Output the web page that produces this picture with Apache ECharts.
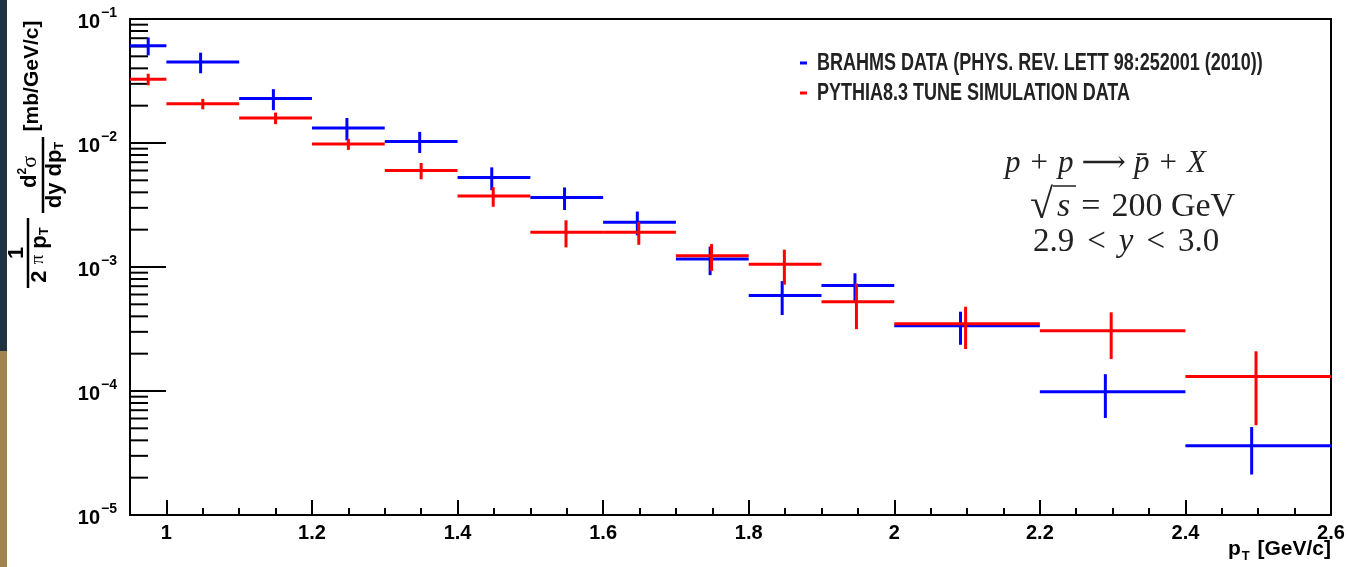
<!DOCTYPE html>
<html><head><meta charset="utf-8">
<script src="https://cdn.jsdelivr.net/npm/echarts@6/dist/echarts.min.js"></script>
<style>html,body{margin:0;padding:0;background:#fff}#c{width:1348px;height:567px}</style>
</head><body><div id="c"></div>
<script>
// ---- data ----
const binLo = [0.95, 1.0, 1.1, 1.2, 1.3, 1.4, 1.5, 1.6, 1.7, 1.8, 1.9, 2.0, 2.2, 2.4];
const binHi = [1.0, 1.1, 1.2, 1.3, 1.4, 1.5, 1.6, 1.7, 1.8, 1.9, 2.0, 2.2, 2.4, 2.6];

const brahmsX   = [0.975, 1.047, 1.147, 1.248, 1.348, 1.447, 1.547, 1.647, 1.747, 1.846, 1.946, 2.091, 2.290, 2.491];
const brahmsY   = [0.0609, 0.045, 0.0228, 0.0132, 0.0103, 0.00526, 0.00363, 0.0023, 0.00116, 0.00059, 0.00071, 0.000336, 0.0000986, 0.0000362];
const brahmsErr = [0.0100, 0.0085, 0.0044, 0.0027, 0.0020, 0.0011, 0.00075, 0.0005, 0.0003, 0.00018, 0.00018, 0.0001, 0.000038, 0.000015];

const pythiaX   = [0.975, 1.05, 1.15, 1.25, 1.35, 1.449, 1.549, 1.649, 1.749, 1.849, 1.948, 2.098, 2.298, 2.497];
const pythiaY   = [0.0327, 0.0207, 0.0159, 0.0098, 0.0060, 0.00373, 0.00191, 0.00191, 0.00123, 0.00105, 0.000525, 0.000348, 0.000306, 0.000131];
const pythiaErr = [0.0035, 0.0020, 0.0017, 0.0010, 0.0009, 0.00067, 0.00047, 0.0004, 0.0003, 0.00033, 0.00021, 0.00013, 0.000125, 0.000078];

const xTickValues = [1, 1.2, 1.4, 1.6, 1.8, 2, 2.2, 2.4, 2.6];
const xMinorTickValues = [1.05, 1.1, 1.15, 1.25, 1.3, 1.35, 1.45, 1.5, 1.55, 1.65, 1.7, 1.75, 1.85, 1.9, 1.95,
                          2.05, 2.1, 2.15, 2.25, 2.3, 2.35, 2.45, 2.5, 2.55];
const yMinorTickValues = [2e-5, 3e-5, 4e-5, 5e-5, 6e-5, 7e-5, 8e-5, 9e-5,
                          2e-4, 3e-4, 4e-4, 5e-4, 6e-4, 7e-4, 8e-4, 9e-4,
                          2e-3, 3e-3, 4e-3, 5e-3, 6e-3, 7e-3, 8e-3, 9e-3,
                          2e-2, 3e-2, 4e-2, 5e-2, 6e-2, 7e-2, 8e-2, 9e-2];
const xMin = 0.95, xMax = 2.6, yMin = 1e-5, yMax = 1e-1;

const legendNames = ['BRAHMS DATA (PHYS. REV. LETT 98:252001 (2010))', 'PYTHIA8.3 TUNE SIMULATION DATA'];

// ---- chart ----
const SANS = '"Liberation Sans", Arial, Helvetica, sans-serif';
const SERIF = '"Liberation Serif", "DejaVu Serif", "Times New Roman", serif';
const chart = echarts.init(document.getElementById('c'), null, {renderer: 'canvas'});

function errSeries(name, xs, ys, es, color) {
  return {
    name, type: 'custom', xAxisIndex: 0, yAxisIndex: 0, clip: false,
    data: xs.map((x, i) => [x, ys[i], es[i], binLo[i], binHi[i]]),
    encode: {x: 0, y: 1},
    renderItem(params, api) {
      const xc = api.value(0), y = api.value(1), e = api.value(2), lo = api.value(3), hi = api.value(4);
      const pL = api.coord([lo, y]), pR = api.coord([hi, y]);
      const pT = api.coord([xc, y + e]), pB = api.coord([xc, y - e]);
      const st = {stroke: color, lineWidth: 3};
      return {type: 'group', children: [
        {type: 'line', shape: {x1: pL[0], y1: pL[1], x2: pR[0], y2: pR[1]}, style: st},
        {type: 'line', shape: {x1: pT[0], y1: pT[1], x2: pB[0], y2: pB[1]}, style: st}
      ]};
    }
  };
}

const tickStyle = {color: '#000', width: 2};
const bTxt = {fontFamily: SANS, fontWeight: 'bold', fill: '#000'};
const INK = '#222';
function serifRich(size, pad) {
  return {
    i: {fontFamily: SERIF, fontStyle: 'italic', fontSize: size, fill: INK},
    n: {fontFamily: SERIF, fontSize: size, fill: INK},
    o: {fontFamily: SERIF, fontSize: size, fill: INK, padding: [0, pad, 0, pad]},
    a: {fontFamily: SERIF, fontSize: size, fill: INK, padding: [0, pad - 2, 0, pad - 2]}
  };
}

const option = {
  backgroundColor: '#fff',
  animation: false,
  grid: {left: 130, right: 17, top: 19, bottom: 52, show: true, borderColor: '#000', borderWidth: 2,
         backgroundColor: 'transparent', containLabel: false, outerBoundsMode: 'none'},
  xAxis: [
    {type: 'value', min: xMin, max: xMax, position: 'bottom',
     axisLine: {onZero: false, lineStyle: tickStyle},
     axisTick: {inside: true, length: 15, customValues: xTickValues, lineStyle: tickStyle},
     axisLabel: {customValues: xTickValues, margin: 8, fontSize: 20, fontWeight: 'bold', color: '#000', fontFamily: SANS},
     splitLine: {show: false}},
    {type: 'value', min: xMin, max: xMax, position: 'bottom',
     axisLine: {show: false, onZero: false},
     axisTick: {inside: true, length: 7, customValues: xMinorTickValues, lineStyle: tickStyle},
     axisLabel: {show: false},
     splitLine: {show: false}}
  ],
  yAxis: {
    type: 'log', logBase: 10, min: yMin, max: yMax,
    axisLine: {show: true, onZero: false, lineStyle: tickStyle},
    axisTick: {inside: true, length: 36, lineStyle: tickStyle},
    splitLine: {show: false},
    axisLabel: {
      margin: 13, color: '#000',
      formatter: v => '{b|10}{s|\u2212' + Math.round(-Math.log10(v)) + '}',
      rich: {
        b: {fontSize: 20, fontWeight: 'bold', fontFamily: SANS, color: '#000', lineHeight: 26, verticalAlign: 'bottom'},
        s: {fontSize: 14, fontWeight: 'bold', fontFamily: SANS, color: '#000', lineHeight: 12, verticalAlign: 'top', padding: [0, 0, 0, 1]}
      }
    }
  },
  series: [
    {
      name: 'minorTicks', type: 'custom', xAxisIndex: 0, yAxisIndex: 0, clip: false, silent: true,
      data: yMinorTickValues.map(v => [xMin, v]),
      encode: {x: 0, y: 1},
      renderItem(params, api) {
        const p = api.coord([api.value(0), api.value(1)]);
        return {type: 'line', shape: {x1: p[0], y1: p[1], x2: p[0] + 18, y2: p[1]}, style: {stroke: '#000', lineWidth: 2}};
      }
    },
    errSeries(legendNames[0], brahmsX, brahmsY, brahmsErr, '#0000ff'),
    errSeries(legendNames[1], pythiaX, pythiaY, pythiaErr, '#ff0000')
  ],
  graphic: [
    // left slide strip
    {type: 'rect', shape: {x: 0, y: 0, width: 7, height: 351}, style: {fill: '#1f3340'}, silent: true},
    {type: 'rect', shape: {x: 0, y: 351, width: 7, height: 216}, style: {fill: '#a08450'}, silent: true},
    // legend
    {type: 'rect', shape: {x: 800, y: 61.5, width: 7, height: 3}, style: {fill: '#0000ff'}},
    {type: 'rect', shape: {x: 800, y: 91.5, width: 7, height: 3}, style: {fill: '#ff0000'}},
    {type: 'text', x: 817, y: 63, scaleX: 0.75,
     style: {text: legendNames[0], fontFamily: SANS, fontWeight: 'bold', fontSize: 24, fill: INK, verticalAlign: 'middle', align: 'left'}},
    {type: 'text', x: 817, y: 93, scaleX: 0.75,
     style: {text: legendNames[1], fontFamily: SANS, fontWeight: 'bold', fontSize: 24, fill: INK, verticalAlign: 'middle', align: 'left'}},
    // physics annotation
    {type: 'text', x: 1005, y: 164,
     style: {text: '{i|p}{o|+}{i|p}{a|\u27F6}{i|p\u0304}{o|+}{i|X}', verticalAlign: 'middle', align: 'left',
       rich: serifRich(31, 10)}},
    {type: 'text', x: 1030, y: 207,
     style: {text: '\u221A', fontFamily: SERIF, fontSize: 42, fill: INK, verticalAlign: 'middle', align: 'left'}},
    {type: 'line', shape: {x1: 1053, y1: 186, x2: 1076, y2: 186}, style: {stroke: INK, lineWidth: 1.5}},
    {type: 'text', x: 1057, y: 207,
     style: {text: '{i|s}{o|=}{n|200 GeV}', verticalAlign: 'middle', align: 'left', rich: serifRich(34, 11)}},
    {type: 'text', x: 1033, y: 242,
     style: {text: '{n|2.9}{o|<}{i|y}{o|<}{n|3.0}', verticalAlign: 'middle', align: 'left', rich: serifRich(33, 13)}},
    // x axis title
    {type: 'text', x: 1331, y: 551,
     style: {text: '{b|p}{sub|T}{b| [GeV/c]}', align: 'right', verticalAlign: 'middle',
       rich: {b: {fontFamily: SANS, fontWeight: 'bold', fontSize: 21, fill: '#000', lineHeight: 24, verticalAlign: 'top'},
              sub: {fontFamily: SANS, fontWeight: 'bold', fontSize: 13, fill: '#000', lineHeight: 10, verticalAlign: 'bottom', padding: [0, 2, 0, 1]}}}},
    // y axis title (rotated)
    {type: 'group', x: 0, y: 300, rotation: Math.PI / 2, children: [
      {type: 'text', x: 47, y: 17, style: Object.assign({text: '1', fontSize: 22, align: 'center', verticalAlign: 'middle'}, bTxt)},
      {type: 'line', shape: {x1: 12, y1: 28, x2: 82, y2: 28}, style: {stroke: '#000', lineWidth: 2.5}},
      {type: 'text', x: 45, y: 29,
       style: {text: '{b|2 }{pi|\u03C0}{b| p}{sub|T}', align: 'center', verticalAlign: 'top',
         rich: {b: {fontFamily: SANS, fontWeight: 'bold', fontSize: 22, fill: '#000', lineHeight: 22, verticalAlign: 'top'},
                pi: {fontFamily: SERIF, fontSize: 19, fill: '#000', lineHeight: 22, verticalAlign: 'top'},
                sub: {fontFamily: SANS, fontWeight: 'bold', fontSize: 13, fill: '#000', lineHeight: 10, verticalAlign: 'bottom'}}}},
      {type: 'text', x: 128, y: 41,
       style: {text: '{b|d}{sup|2}{sig|\u03C3}', align: 'center', verticalAlign: 'bottom',
         rich: {b: {fontFamily: SANS, fontWeight: 'bold', fontSize: 22, fill: '#000', lineHeight: 24, verticalAlign: 'bottom'},
                sup: {fontFamily: SANS, fontWeight: 'bold', fontSize: 12, fill: '#000', lineHeight: 10, verticalAlign: 'top'},
                sig: {fontFamily: SERIF, fontSize: 22, fill: '#000', lineHeight: 22, verticalAlign: 'bottom'}}}},
      {type: 'line', shape: {x1: 87, y1: 43, x2: 163, y2: 43}, style: {stroke: '#000', lineWidth: 2.5}},
      {type: 'text', x: 125, y: 44,
       style: {text: '{b|dy dp}{sub|T}', align: 'center', verticalAlign: 'top',
         rich: {b: {fontFamily: SANS, fontWeight: 'bold', fontSize: 22, fill: '#000', lineHeight: 22, verticalAlign: 'top'},
                sub: {fontFamily: SANS, fontWeight: 'bold', fontSize: 13, fill: '#000', lineHeight: 10, verticalAlign: 'bottom'}}}},
      {type: 'text', x: 224, y: 32, style: Object.assign({text: '[mb/GeV/c]', fontSize: 21, align: 'center', verticalAlign: 'middle'}, bTxt)}
    ]}
  ]
};
chart.setOption(option);
</script>
</body></html>
